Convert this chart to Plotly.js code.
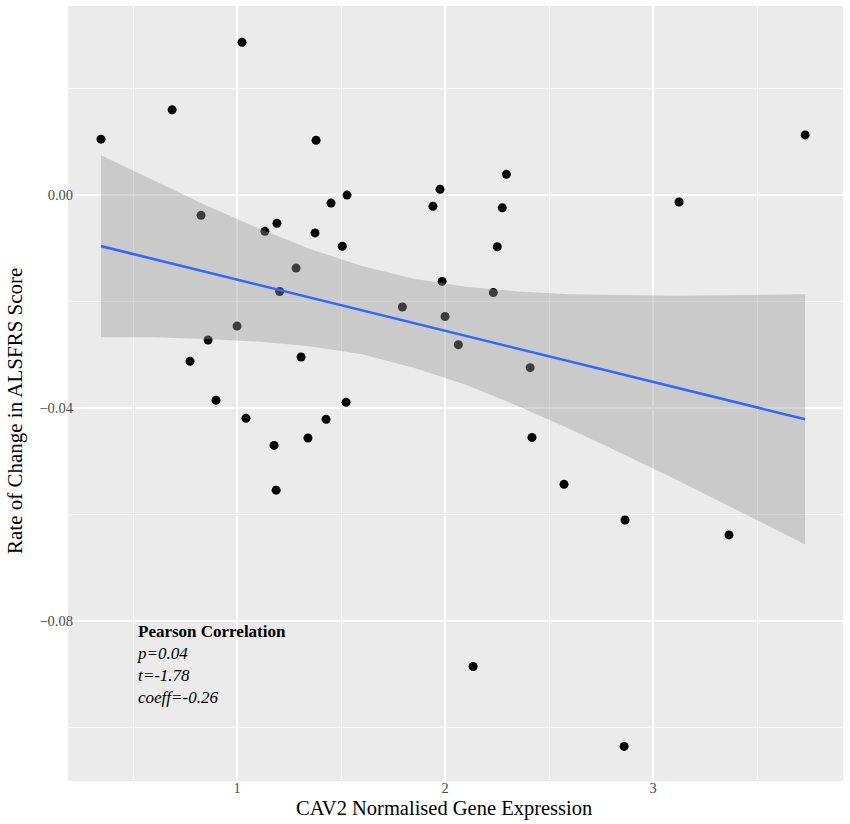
<!DOCTYPE html>
<html>
<head>
<meta charset="utf-8">
<script src="https://cdn.plot.ly/plotly-3.0.1.min.js"></script>
<style>
  body { margin: 0; background: #fff; }
  #chart { width: 850px; height: 824px; }
</style>
</head>
<body>
<div id="chart"></div>
<script>
// CAV2 expression vs ALSFRS slope
const expression = [
  0.346, 0.688, 1.024, 1.380, 0.827, 1.529, 1.452, 1.192, 1.134, 1.375,
  1.506, 1.284, 1.205, 1.795, 1.000, 0.861, 0.774, 1.308, 0.899, 1.524,
  1.043, 1.428, 1.341, 1.178, 1.188, 1.976, 1.942, 2.295, 2.275, 2.251,
  3.125, 3.731, 1.986, 2.232, 2.000, 2.064, 2.409, 2.418, 2.572, 2.865,
  3.365, 2.135, 2.861
];
const alsfrsRate = [
  0.0105, 0.0160, 0.0287, 0.0103, -0.0038, 0.0000, -0.0015, -0.0053, -0.0068, -0.0071,
  -0.0096, -0.0137, -0.0181, -0.0210, -0.0246, -0.0272, -0.0312, -0.0304, -0.0385, -0.0389,
  -0.0419, -0.0421, -0.0456, -0.0470, -0.0554, 0.0011, -0.0021, 0.0039, -0.0024, -0.0097,
  -0.0013, 0.0113, -0.0162, -0.0183, -0.0228, -0.0281, -0.0324, -0.0455, -0.0543, -0.0610,
  -0.0638, -0.0885, -0.1035
];

// fitted line end points and confidence band
const fitX = [0.346, 3.731];
const fitY = [-0.00958, -0.0421];
const bandX = [0.346, 0.6, 0.85, 1.1, 1.35, 1.6, 1.85, 2.1, 2.35, 2.6, 2.85, 3.1, 3.35, 3.6, 3.731];
const bandUpper = [0.0075, 0.0027, -0.0019, -0.0062, -0.0101, -0.0133, -0.0157, -0.0172,
  -0.0181, -0.0186, -0.0188, -0.0189, -0.0188, -0.0187, -0.0186];
const bandLower = [-0.0267, -0.0267, -0.0270, -0.0275, -0.0284, -0.0299, -0.0324, -0.0356,
  -0.0396, -0.0439, -0.0485, -0.0532, -0.0581, -0.0630, -0.0656];

const xTitle = 'CAV2 Normalised Gene Expression';
const yTitle = 'Rate of Change in ALSFRS Score';
const statsText = '<b>Pearson Correlation</b><br><i>p=0.04</i><br><i>t=-1.78</i><br><i>coeff=-0.26</i>';

const serif = 'Liberation Serif, Times New Roman, serif';

let points = {
  type: 'scatter',
  mode: 'markers',
  x: expression,
  y: alsfrsRate,
  marker: { color: '#000', size: 9 },
  hoverinfo: 'skip'
};

// ribbon goes over the points like geom_smooth does
let band = {
  type: 'scatter',
  mode: 'lines',
  x: bandX.concat(bandX.slice().reverse()),
  y: bandUpper.concat(bandLower.slice().reverse()),
  fill: 'toself',
  fillcolor: 'rgba(153, 153, 153, 0.4)',
  line: { width: 0 },
  hoverinfo: 'skip'
};

let fit = {
  type: 'scatter',
  mode: 'lines',
  x: fitX,
  y: fitY,
  line: { color: '#3366FF', width: 2.6 },
  hoverinfo: 'skip'
};

let layout = {
  width: 850,
  height: 824,
  margin: { t: 6, b: 43, l: 68, r: 7 },
  showlegend: false,
  paper_bgcolor: '#fff',
  plot_bgcolor: '#EBEBEB',
  font: { family: serif, color: '#000' },
  xaxis: {
    range: [0.1875, 3.913],
    tick0: 0,
    dtick: 1,
    showgrid: true,
    gridcolor: '#fff',
    gridwidth: 1.6,
    minor: { dtick: 0.5, showgrid: true, gridcolor: '#fff', gridwidth: 0.8 },
    zeroline: false,
    showline: false,
    ticks: '',
    ticklabelstandoff: -4,
    tickfont: { family: serif, size: 14.5, color: '#4D4D4D' },
    automargin: false
  },
  yaxis: {
    range: [-0.1100, 0.0355],
    tick0: 0,
    dtick: 0.04,
    tickformat: '.2f',
    showgrid: true,
    gridcolor: '#fff',
    gridwidth: 1.6,
    minor: { dtick: 0.02, showgrid: true, gridcolor: '#fff', gridwidth: 0.8 },
    zeroline: false,
    showline: false,
    ticks: '',
    ticklabelstandoff: -6,
    tickfont: { family: serif, size: 14.5, color: '#4D4D4D' },
    automargin: false
  },
  annotations: [
    {
      x: 0.51, y: -0.0798, xref: 'x', yref: 'y',
      xanchor: 'left', yanchor: 'top', align: 'left', showarrow: false,
      text: statsText,
      font: { family: serif, size: 17, color: '#000' }
    },
    {
      // axis titles sit a little off the panel centre in the original
      x: 444, y: 808, xref: 'paper', yref: 'paper',
      xanchor: 'center', yanchor: 'middle',
      showarrow: false, text: xTitle,
      font: { family: serif, size: 20.5, color: '#000' }
    },
    {
      x: 15, y: 411, xref: 'paper', yref: 'paper',
      xanchor: 'center', yanchor: 'middle',
      showarrow: false, textangle: -90, text: yTitle,
      font: { family: serif, size: 21, color: '#000' }
    }
  ]
};

// convert the two title positions from picture pixels to paper fractions
let plotW = layout.width - layout.margin.l - layout.margin.r;
let plotH = layout.height - layout.margin.t - layout.margin.b;
layout.annotations[1].x = (layout.annotations[1].x - layout.margin.l) / plotW;
layout.annotations[1].y = (layout.height - layout.margin.b - layout.annotations[1].y) / plotH;
layout.annotations[2].x = (layout.annotations[2].x - layout.margin.l) / plotW;
layout.annotations[2].y = (layout.height - layout.margin.b - layout.annotations[2].y) / plotH;

Plotly.newPlot('chart', [points, band, fit], layout, { displayModeBar: false, staticPlot: true });
</script>
</body>
</html>
